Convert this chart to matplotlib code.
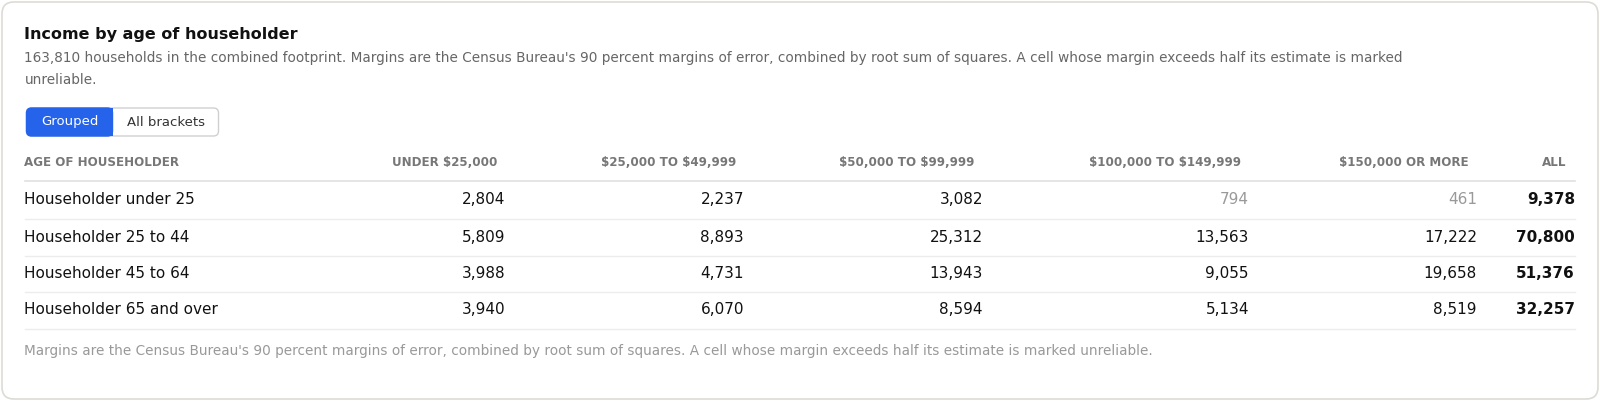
import matplotlib
matplotlib.use("Agg")
import matplotlib.pyplot as plt
from matplotlib.patches import FancyBboxPatch, Rectangle

plt.rcParams['font.family'] = ['DejaVu Sans']
plt.rcParams['text.parse_math'] = False

title = "Income by age of householder"
subtitle = ["163,810 households in the combined footprint. Margins are the Census Bureau's 90 percent margins of error, combined by root sum of squares. A cell whose margin exceeds half its estimate is marked",
            "unreliable."]
columns = ["AGE OF HOUSEHOLDER", "UNDER $25,000", "$25,000 TO $49,999", "$50,000 TO $99,999",
           "$100,000 TO $149,999", "$150,000 OR MORE", "ALL"]
rows = ["Householder under 25", "Householder 25 to 44", "Householder 45 to 64", "Householder 65 and over"]
values = [
    [2804, 2237, 3082, 794, 461],
    [5809, 8893, 25312, 13563, 17222],
    [3988, 4731, 13943, 9055, 19658],
    [3940, 6070, 8594, 5134, 8519],
]
totals = [9378, 70800, 51376, 32257]
unreliable = [(0, 3), (0, 4)]
footnote = "Margins are the Census Bureau's 90 percent margins of error, combined by root sum of squares. A cell whose margin exceeds half its estimate is marked unreliable."

W, H = 1600, 403
fig = plt.figure(figsize=(16, 4.03), dpi=100)
ax = fig.add_axes([0, 0, 1, 1])
ax.set_xlim(0, W); ax.set_ylim(H, 0); ax.axis("off")

ax.add_patch(FancyBboxPatch((2, 2), W - 4, H - 6, boxstyle="round,pad=0,rounding_size=12",
                            fc="white", ec="#dddbd5", lw=1.2))
ax.text(24.5, 34, title, fontsize=11.5, fontweight="bold", color="#111", va="center")
for i, s in enumerate(subtitle):
    ax.text(24.5, 58 + 22 * i, s, fontsize=9.8, color="#666", va="center")

# toggle buttons
ax.add_patch(FancyBboxPatch((26.5, 108), 192, 28, boxstyle="round,pad=0,rounding_size=5",
                            fc="white", ec="#d0d0d0", lw=1))
ax.add_patch(FancyBboxPatch((26.5, 108), 86, 28, boxstyle="round,pad=0,rounding_size=5",
                            fc="#2563eb", ec="#2563eb", lw=1))
ax.add_patch(Rectangle((100, 108), 13, 28, fc="#2563eb", ec="none"))
ax.text(69.5, 122, "Grouped", fontsize=9.5, color="white", ha="center", va="center")
ax.text(166, 122, "All brackets", fontsize=9.5, color="#333", ha="center", va="center")

val_right = [505, 744, 983, 1249, 1477, 1575]
hdr_right = [497, 736, 974, 1241, 1469, 1566]
hdr_kw = dict(fontsize=8.6, fontweight="bold", color="#777", va="center", fontstretch="expanded")
ax.text(24.5, 163, columns[0], **hdr_kw)
for c, x in zip(columns[1:], hdr_right):
    ax.text(x, 163, c, ha="right", **hdr_kw)
ax.plot([24.5, 1575], [181, 181], color="#e0e0e0", lw=1.2)

row_y = [200, 237, 273.5, 310]
for r, (name, y) in enumerate(zip(rows, row_y)):
    ax.text(24.5, y, name, fontsize=11, color="#111", va="center")
    for c, v in enumerate(values[r]):
        col = "#999" if (r, c) in unreliable else "#111"
        ax.text(val_right[c], y, f"{v:,}", fontsize=11, color=col, va="center", ha="right")
    ax.text(val_right[5], y, f"{totals[r]:,}", fontsize=11, fontweight="bold", color="#111",
            va="center", ha="right")
    ax.plot([24.5, 1575], [y + 18.5, y + 18.5], color="#ececec", lw=1)

ax.text(24.5, 351, footnote, fontsize=9.8, color="#999", va="center")
fig.savefig("out.png", dpi=100)
